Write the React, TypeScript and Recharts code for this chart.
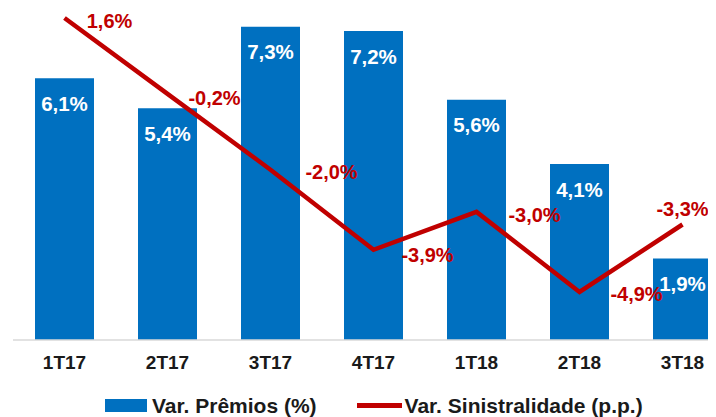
import { ComposedChart, Bar, Line, XAxis, YAxis, LabelList } from 'recharts';

const quarters = ['1T17', '2T17', '3T17', '4T17', '1T18', '2T18', '3T18'];
const premios = [6.1, 5.4, 7.3, 7.2, 5.6, 4.1, 1.9];
const sinistralidade = [1.6, -0.2, -2.0, -3.9, -3.0, -4.9, -3.3];

// label offsets for the line values, relative to each point
const lineLabelDx = [45, 47, 61, 54, 58, 57, 0];
const lineLabelDy = [3, 4, 2, 5, 3, 2, -16];

const data = quarters.map((q, i) => ({ name: q, premios: premios[i], sin: sinistralidade[i] }));

const FONT = '"Liberation Sans", Arial, sans-serif';
const BLUE = '#0070C0';
const RED = '#C00000';

const fmt = (v: number) => v.toFixed(1).replace('.', ',') + '%';

const LineLabel = (props: any) => {
  const { x, y, value, index } = props;
  return (
    <text
      x={x + lineLabelDx[index]}
      y={y + lineLabelDy[index]}
      textAnchor="middle"
      dominantBaseline="central"
      fill={RED}
      fontSize={20}
      fontWeight="bold"
      fontFamily={FONT}
    >
      {fmt(value)}
    </text>
  );
};

export default function App() {
  return (
    <div style={{ position: 'relative', width: 708, height: 409, overflow: 'hidden', background: '#fff', fontFamily: FONT }}>
      <div style={{ position: 'absolute', left: -8, top: -8 }}>
        <ComposedChart width={740} height={417} data={data} margin={{ top: 10, right: 6, left: 13, bottom: 0 }}>
          <XAxis
            dataKey="name"
            height={77}
            tickLine={false}
            tickSize={0}
            tickMargin={16}
            axisLine={{ stroke: '#D9D9D9', strokeWidth: 1.5 }}
            tick={{ fill: '#1a1a1a', fontSize: 19, fontWeight: 'bold', fontFamily: FONT }}
          />
          <YAxis yAxisId="bar" hide domain={[0, 7.692]} />
          <YAxis yAxisId="line" hide domain={[-6.04, 1.789]} />
          <Bar yAxisId="bar" dataKey="premios" fill={BLUE} barSize={59} isAnimationActive={false}>
            <LabelList
              dataKey="premios"
              position="insideTop"
              offset={18}
              formatter={(v: any) => fmt(Number(v))}
              fill="#fff"
              fontSize={20.5}
              fontWeight="bold"
              fontFamily={FONT}
            />
          </Bar>
          <Line
            yAxisId="line"
            dataKey="sin"
            type="linear"
            stroke={RED}
            strokeWidth={4.5}
            dot={false}
            isAnimationActive={false}
          >
            <LabelList dataKey="sin" content={LineLabel} />
          </Line>
        </ComposedChart>
      </div>
      <div
        style={{
          position: 'absolute',
          left: 97,
          top: 387,
          height: 21,
          lineHeight: '21px',
          display: 'flex',
          alignItems: 'center',
          fontSize: 21,
          fontWeight: 'bold',
          color: '#1a1a1a',
          whiteSpace: 'nowrap',
        }}
      >
        <span style={{ display: 'inline-block', width: 42, height: 13, background: BLUE, marginRight: 5 }} />
        <span>Var. Prêmios (%)</span>
        <span style={{ display: 'inline-block', width: 45, height: 4.5, background: RED, marginLeft: 40, marginRight: 3 }} />
        <span>Var. Sinistralidade (p.p.)</span>
      </div>
    </div>
  );
}
